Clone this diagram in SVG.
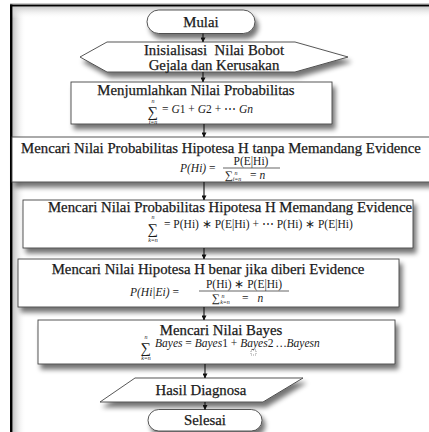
<svg xmlns="http://www.w3.org/2000/svg" width="429" height="432" viewBox="0 0 429 432">
<defs>
<style>
.t{font-family:"Liberation Serif","Times New Roman",serif;font-size:14.8px;fill:#1a1a1a;stroke:#1a1a1a;stroke-width:0.25;text-anchor:middle}
.m{font-family:"Liberation Serif","Times New Roman",serif;font-size:11.5px;fill:#1a1a1a}
.mi{font-style:italic}
.sg{font-family:"Liberation Serif","DejaVu Serif",serif;font-size:14.5px;fill:#1a1a1a;text-anchor:middle}
.sd{font-family:"Liberation Serif","DejaVu Serif",serif;font-size:11.5px;fill:#1a1a1a}
.sm{font-family:"Liberation Serif",serif;font-size:6px;font-style:italic;fill:#1a1a1a;text-anchor:middle}
.shape{fill:#fff;stroke:#444;stroke-width:0.9}
.conn line{stroke:#111;stroke-width:1.1;marker-end:url(#ah)}
.fl{stroke:#222;stroke-width:0.7}
</style>
<marker id="ah" viewBox="0 0 6 6" refX="5.5" refY="3" markerWidth="5" markerHeight="5" orient="auto" markerUnits="userSpaceOnUse"><path d="M0,0 L6,3 L0,6 z" fill="#111"/></marker>
<filter id="sh" x="-10%" y="-20%" width="125%" height="170%">
<feGaussianBlur in="SourceAlpha" stdDeviation="2.6"/>
<feOffset dx="3" dy="4.5" result="b"/>
<feComponentTransfer><feFuncA type="linear" slope="0.55"/></feComponentTransfer>
<feMerge><feMergeNode/><feMergeNode in="SourceGraphic"/></feMerge>
</filter>
<linearGradient id="gl" x1="0" y1="0" x2="1" y2="0"><stop offset="0" stop-color="#bbb"/><stop offset="1" stop-color="#fff" stop-opacity="0"/></linearGradient>
<linearGradient id="gt" x1="0" y1="0" x2="0" y2="1"><stop offset="0" stop-color="#c8c8c8"/><stop offset="1" stop-color="#fff" stop-opacity="0"/></linearGradient>
</defs>
<rect width="429" height="432" fill="#fff"/>
<g id="frame">
<rect x="12" y="6.5" width="14" height="426" fill="url(#gl)"/>
<rect x="12" y="6.5" width="417" height="12" fill="url(#gt)"/>
<line x1="10" y1="3.5" x2="429" y2="3.5" stroke="#ccc" stroke-width="1"/>
<line x1="10" y1="5.5" x2="429" y2="5.5" stroke="#000" stroke-width="2.2"/>
<line x1="11.2" y1="4.5" x2="11.2" y2="432" stroke="#000" stroke-width="2.4"/>
</g>
<g id="n-mulai">
<rect class="shape" filter="url(#sh)" x="147" y="10" width="108" height="23.5" rx="11.75"/>
<text class="t" x="201" y="26.5">Mulai</text>
</g>
<g id="n-init">
<polygon class="shape" filter="url(#sh)" points="80,57 107,42 295,42 348,57 295,72 107,72"/>
<text class="t" x="214" y="54.5" font-size="13.5" xml:space="preserve">Inisialisasi  Nilai Bobot</text>
<text class="t" x="214" y="69.5" font-size="13.5">Gejala dan Kerusakan</text>
</g>
<g id="n-jumlah">
<rect class="shape" filter="url(#sh)" x="71" y="82" width="261" height="42"/>
<text class="t" x="196" y="95.3">Menjumlahkan Nilai Probabilitas</text>
<text class="sg" x="153" y="117">∑</text>
<text class="sm" x="153" y="103.3">n</text>
<text class="sm" x="153" y="124.3">i=n</text>
<text class="m" x="162" y="113">= <tspan class="mi">G</tspan>1 + <tspan class="mi">G</tspan>2 + ⋯ <tspan class="mi">Gn</tspan></text>
</g>
<g id="n-prior">
<rect class="shape" filter="url(#sh)" x="12" y="137" width="430" height="45"/>
<text class="t" x="221" y="153">Mencari Nilai Probabilitas Hipotesa H tanpa Memandang Evidence</text>
<text class="m mi" x="180" y="172">P(Hi) <tspan font-style="normal">=</tspan></text>
<text class="m" x="251" y="165" text-anchor="middle">P(E|Hi)</text>
<line class="fl" x1="223" y1="168" x2="280" y2="168"/>
<text class="sd" x="225" y="179">∑</text>
<text class="sm" x="237" y="181">i=n</text>
<text class="sm" x="236" y="174.5">n</text>
<text class="m" x="250" y="179">= <tspan class="mi">n</tspan></text>
</g>
<g id="n-evidence">
<rect class="shape" filter="url(#sh)" x="23" y="200" width="390" height="48"/>
<text class="t" x="230" y="212.3">Mencari Nilai Probabilitas Hipotesa H Memandang Evidence</text>
<text class="sg" x="153" y="233.6">∑</text>
<text class="sm" x="153" y="219.3">n</text>
<text class="sm" x="153" y="241.5">k=n</text>
<text class="m" x="164" y="228">= P(Hi) ∗ P(E|Hi) + ⋯ P(Hi) ∗ P(E|Hi)</text>
</g>
<g id="n-hipotesa">
<rect class="shape" filter="url(#sh)" x="18" y="259" width="381" height="48"/>
<text class="t" x="208" y="274">Mencari Nilai Hipotesa H benar jika diberi Evidence</text>
<text class="m mi" x="130" y="296">P(Hi|Ei) <tspan font-style="normal">=</tspan></text>
<text class="m" x="244" y="288" text-anchor="middle">P(Hi) ∗ P(E|Hi)</text>
<line class="fl" x1="199" y1="291" x2="289" y2="291"/>
<text class="sd" x="212" y="302">∑</text>
<text class="sm" x="225" y="304">k=n</text>
<text class="sm" x="223" y="297.5">n</text>
<text class="m" x="242" y="302">= <tspan class="mi" dx="6">n</tspan></text>
</g>
<g id="n-bayes">
<rect class="shape" filter="url(#sh)" x="38" y="320" width="357" height="44"/>
<text class="t" x="221" y="334.5">Mencari Nilai Bayes</text>
<text class="sg" x="146" y="352.5">∑</text>
<text class="sm" x="146" y="339">n</text>
<text class="sm" x="146" y="359.8">k=n</text>
<text class="m mi" x="155" y="347">Bayes <tspan font-style="normal">=</tspan> Bayes<tspan font-style="normal">1 +</tspan> Bayes<tspan font-style="normal">2</tspan> …Bayesn</text>
<rect x="251" y="350" width="5" height="5" fill="none" stroke="#555" stroke-width="0.6" stroke-dasharray="1,1"/>
</g>
<g id="n-hasil">
<polygon class="shape" filter="url(#sh)" points="135,378 303,378 263,402 100,402"/>
<text class="t" x="201" y="394.5">Hasil Diagnosa</text>
</g>
<g id="n-selesai">
<rect class="shape" filter="url(#sh)" x="148" y="409.5" width="114" height="21.5" rx="10.75"/>
<text class="t" x="205" y="424.5">Selesai</text>
</g>
<g class="conn" id="connectors">
<line x1="203" y1="33.5" x2="203" y2="42"/>
<line x1="203" y1="72" x2="203" y2="82"/>
<line x1="204" y1="124" x2="204" y2="137"/>
<line x1="204" y1="182" x2="204" y2="200"/>
<line x1="204" y1="248" x2="204" y2="259"/>
<line x1="204" y1="307" x2="204" y2="320"/>
<line x1="205" y1="364" x2="205" y2="378"/>
<line x1="205" y1="402" x2="205" y2="409.5"/>
</g>
</svg>
